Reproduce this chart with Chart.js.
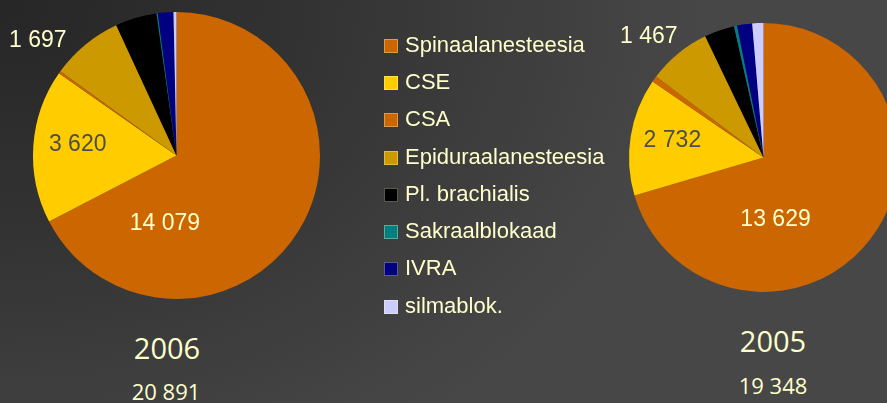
<!DOCTYPE html>
<html>
<head>
<meta charset="utf-8">
<script src="https://cdn.jsdelivr.net/npm/chart.js@4/dist/chart.umd.min.js"></script>
<style>
  html, body { margin:0; padding:0; }
  body {
    width:887px; height:403px; overflow:hidden; position:relative;
    background: radial-gradient(ellipse 700px 520px at 0px 0px, #262626 0%, #333333 45%, #474747 100%);
    background-color:#4a4a4a;
    font-family: "Liberation Sans", Arial, sans-serif;
  }
  canvas { position:absolute; }
  #pie2006 { left:0px; top:0px; }
  #pie2005 { left:600px; top:0px; }
  #legend { position:absolute; left:384px; top:26px; }
  .item { height:37.3px; display:flex; align-items:center; color:#FFFFCC; font-size:22px; white-space:nowrap; }
  .sw { width:14px; height:14px; margin-right:7px; box-sizing:border-box; border:1px solid rgba(255,255,204,0.35); position:relative; top:1px; }
  .yr { position:absolute; color:#FFFFCC; font-family:"Open Sans", sans-serif; text-align:center; width:200px; line-height:1; }
</style>
</head>
<body>
<canvas id="pie2006" width="330" height="310"></canvas>
<canvas id="pie2005" width="300" height="310"></canvas>
<div id="legend"></div>
<div class="yr" id="y2006" style="left:67px; top:333px; font-size:29px;"></div>
<div class="yr" id="t2006" style="left:66px; top:380px; font-size:22px;"></div>
<div class="yr" id="y2005" style="left:673px; top:326px; font-size:29px;"></div>
<div class="yr" id="t2005" style="left:673px; top:374px; font-size:22px;"></div>
<script>
const categories = ["Spinaalanesteesia", "CSE", "CSA", "Epiduraalanesteesia", "Pl. brachialis", "Sakraalblokaad", "IVRA", "silmablok."];
const colors = ["#CC6600", "#FFCC00", "#CC6600", "#CC9900", "#000000", "#008080", "#000080", "#CCCCFF"];
const values2006 = [14079, 3620, 55, 1697, 975, 30, 365, 70];
const values2005 = [13629, 2732, 140, 1467, 700, 70, 350, 260];
const total2006 = 20891;
const total2005 = 19348;

function fmt(n) { return String(n).replace(/\B(?=(\d{3})+(?!\d))/g, " "); }

// label placement (angle clockwise from top in degrees, radius fraction), style only
const labels2006 = [{i:0, a:189.7, f:0.477, c:"#FFFFCC"}, {i:1, a:276.6, f:0.693, c:"#4D4D4D"}, {i:3, a:309.9, f:1.26, c:"#FFFFCC"}];
const labels2005 = [{i:0, a:168.9, f:0.465, c:"#FFFFCC"}, {i:1, a:281, f:0.69, c:"#4D4D4D"}, {i:3, a:316.8, f:1.245, c:"#FFFFCC"}];

const valueLabels = {
  id: 'valueLabels',
  afterDatasetsDraw(chart, args, opts) {
    const ctx = chart.ctx;
    const meta = chart.getDatasetMeta(0);
    const data = chart.data.datasets[0].data;
    ctx.save();
    ctx.font = '23px "Liberation Sans", Arial, sans-serif';
    ctx.textAlign = 'center';
    ctx.textBaseline = 'middle';
    opts.items.forEach(l => {
      const arc = meta.data[l.i];
      const ang = l.a * Math.PI / 180;
      const r = arc.outerRadius * l.f;
      const x = arc.x + r * Math.sin(ang);
      const y = arc.y - r * Math.cos(ang);
      ctx.fillStyle = l.c;
      ctx.fillText(fmt(data[l.i]), x, y + 1);
    });
    ctx.restore();
  }
};

function makePie(id, values, labelItems, pad) {
  return new Chart(document.getElementById(id), {
    type: 'pie',
    data: { labels: categories, datasets: [{ data: values, backgroundColor: colors, borderWidth: 0 }] },
    options: {
      responsive: false, animation: false, devicePixelRatio: 1,
      layout: { padding: pad },
      plugins: { legend: { display: false }, tooltip: { enabled: false }, valueLabels: { items: labelItems } }
    },
    plugins: [valueLabels]
  });
}
makePie('pie2006', values2006, labels2006, { left: 33, top: 12, right: 10, bottom: 11 });
makePie('pie2005', values2005, labels2005, { left: 29, top: 23, right: 2, bottom: 18 });

const lg = document.getElementById('legend');
categories.forEach((c, i) => {
  const d = document.createElement('div'); d.className = 'item';
  const s = document.createElement('span'); s.className = 'sw'; s.style.background = colors[i];
  const t = document.createElement('span'); t.textContent = c;
  d.appendChild(s); d.appendChild(t); lg.appendChild(d);
});
document.getElementById('y2006').textContent = '2006';
document.getElementById('t2006').textContent = fmt(total2006);
document.getElementById('y2005').textContent = '2005';
document.getElementById('t2005').textContent = fmt(total2005);
</script>
</body>
</html>
